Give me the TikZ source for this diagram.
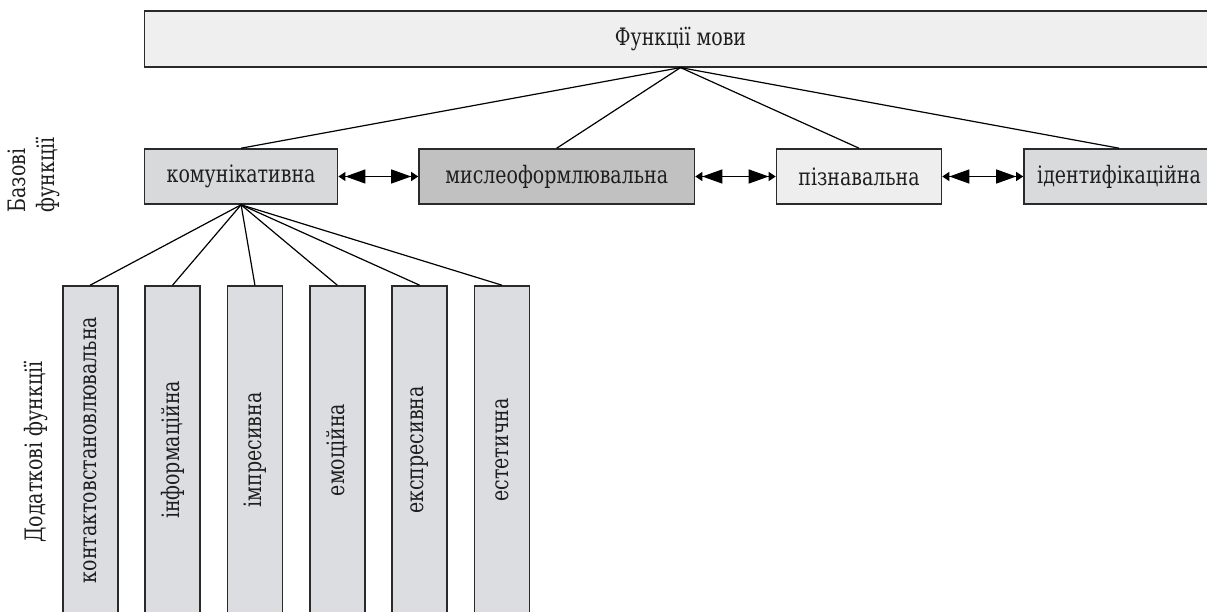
\documentclass[tikz,border=0pt]{standalone}
\usepackage{fontspec}
\setmainfont{DejaVu Serif}[FakeStretch=0.79]
\usetikzlibrary{arrows.meta}

\definecolor{rim}{HTML}{2A2A2A}
\definecolor{ink}{HTML}{1E1E1E}
\definecolor{topfill}{HTML}{EFEFEF}
\definecolor{komfill}{HTML}{D8D9DB}
\definecolor{myslfill}{HTML}{C1C1C1}
\definecolor{pizfill}{HTML}{EEEEEE}
\definecolor{identfill}{HTML}{D9DADC}
\definecolor{dodfill}{HTML}{DCDDE0}

\begin{document}
\begin{tikzpicture}[x=1pt,y=-1pt,
	every node/.style={font=\fontsize{24}{29}\selectfont,text=ink},
	box/.style={draw=rim,line width=1.6pt,inner sep=0pt,minimum height=55pt},
	dodbox/.style={box,fill=dodfill,rotate=90,minimum width=328pt,minimum height=55pt},
	conn/.style={line width=1.2pt,black},
	biarrow/.style={line width=1.2pt,black,
		{Triangle[length=7pt,width=9pt,sep=0pt] Triangle[length=20pt,width=14pt,sep=0pt]}-{Triangle[length=20pt,width=14pt,sep=0pt] Triangle[length=7pt,width=9pt,sep=0pt]}}]
\path[use as bounding box,clip] (0,0) rectangle (1207,612);

\node[box,fill=topfill,minimum width=1072pt,minimum height=56pt] (mova) at (680.5,38.8) {Функції мови};

\node[box,fill=komfill,minimum width=193pt] (kom) at (241.1,176.5) {комунікативна};
\node[box,fill=myslfill,minimum width=275.5pt] (mysl) at (556.75,176.5) {мислеоформлювальна};
\node[box,fill=pizfill,minimum width=165pt] (piz) at (859,176.5) {пізнавальна};
\node[box,fill=identfill,minimum width=190pt] (ident) at (1119,176.5) {ідентифікаційна};

\foreach \n in {kom,mysl,piz,ident}
	\draw[conn] (mova.south) -- (\n.north);

\draw[biarrow] (kom.east) -- (mysl.west);
\draw[biarrow] (mysl.east) -- (piz.west);
\draw[biarrow] (piz.east) -- (ident.west);

\foreach \t [count=\i from 0] in {контактовстановлювальна,інформаційна,імпресивна,емоційна,експресивна,естетична}{
	\node[dodbox] (dod\i) at (90.2+82.36*\i,450) {\t};
	\draw[conn] (kom.south) -- (dod\i.east);
}

\node[rotate=90,align=left] (bazovi) at (34,175) {Базові\\функції};
\node[rotate=90] (dodatkovi) at (36,452) {Додаткові функції};
\end{tikzpicture}
\end{document}
